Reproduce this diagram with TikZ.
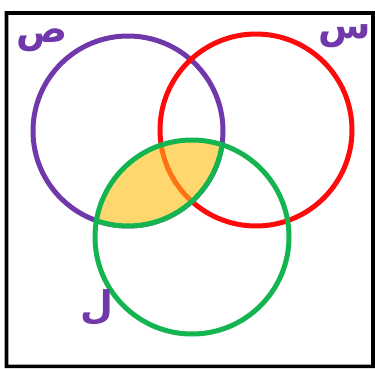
\documentclass[tikz,border=0pt]{standalone}
\usepackage{fontspec}
\newfontfamily\arabicfont[Script=Arabic]{DejaVu Sans}
\TeXXeTstate=1
\definecolor{vpurple}{RGB}{112,56,170}
\definecolor{vred}{RGB}{255,10,10}
\definecolor{vgreen}{RGB}{20,180,80}
\definecolor{vyellow}{RGB}{254,216,110}
\definecolor{vorange}{RGB}{255,115,20}
\tikzset{lab/.style={text=vpurple,font=\arabicfont\bfseries\fontsize{38}{38}\selectfont,inner sep=0pt}}
\begin{document}
\begin{tikzpicture}[x=1pt,y=1pt]
\useasboundingbox (0,0) rectangle (375,368);
\fill[white] (0,0) rectangle (375,368);
\fill[black] (4.7,0) -- (374.8,0) -- (374.8,356.8) -- (4.7,356.8) -- cycle
  (8.3,3.3) -- (8.3,353.2) -- (371.2,353.2) -- (371.2,3.3) -- cycle;
\coordinate (P) at (128,237);
\coordinate (R) at (256,238);
\coordinate (G) at (192,131);
% purple ring
\fill[vpurple] ([shift={(97.5,0)}]P) arc[start angle=0,end angle=360,radius=97.5] -- cycle
  ([shift={(92.5,0)}]P) arc[start angle=0,end angle=-360,radius=92.5] -- cycle;
% red ring
\fill[vred] ([shift={(98.5,0)}]R) arc[start angle=0,end angle=360,radius=98.5] -- cycle
  ([shift={(93.5,0)}]R) arc[start angle=0,end angle=-360,radius=93.5] -- cycle;
% lens
\begin{scope}
\clip (P) circle[radius=95];
\clip (G) circle[radius=97];
\fill[vyellow] (G) circle[radius=97];
\fill[vorange] ([shift={(98.5,0)}]R) arc[start angle=0,end angle=360,radius=98.5] -- cycle
  ([shift={(93.5,0)}]R) arc[start angle=0,end angle=-360,radius=93.5] -- cycle;
\end{scope}
% green ring
\fill[vgreen] ([shift={(99.5,0)}]G) arc[start angle=0,end angle=360,radius=99.5] -- cycle
  ([shift={(94.5,0)}]G) arc[start angle=0,end angle=-360,radius=94.5] -- cycle;
\begin{scope}
\clip (G) circle[radius=97];
\fill[vgreen] ([shift={(97.5,0)}]P) arc[start angle=0,end angle=360,radius=97.5] -- cycle
  ([shift={(92.5,0)}]P) arc[start angle=0,end angle=-360,radius=92.5] -- cycle;
\end{scope}
\node[lab] (sad) at (42,328) {\beginR ص\endR};
\node[lab] (seen) at (345,332) {\beginR س\endR};
\node[lab] (lam) at (97,60) {\beginR ل\endR};
\end{tikzpicture}
\end{document}
